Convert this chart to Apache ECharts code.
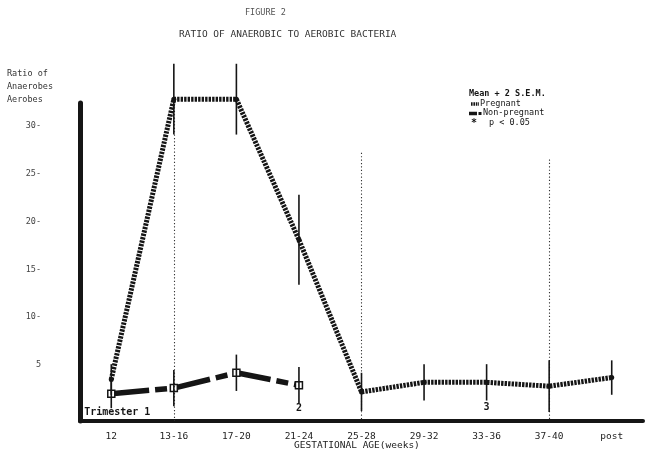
<!DOCTYPE html>
<html>
<head>
<meta charset="utf-8">
<script src="https://cdn.jsdelivr.net/npm/echarts@6/dist/echarts.min.js"></script>
<style>
html,body{margin:0;padding:0;background:#fff;}
#chart{width:647px;height:455px;}
</style>
</head>
<body>
<div id="chart"></div>
<script>
const categories = ['12','13-16','17-20','21-24','25-28','29-32','33-36','37-40','post'];
const pregnantMean = [3.5, 32.8, 32.8, 18.1, 2.2, 3.2, 3.2, 2.8, 3.7];
const pregnantErr  = [1.6, 3.7, 3.7, 4.7, 2.0, 1.9, 1.9, 2.7, 1.8];
const nonPregMean  = [2.0, 2.6, 4.2, 2.9, null, null, null, null, null];
const nonPregErr   = [1.5, 1.9, 1.9, 1.9, null, null, null, null, null];
const yTicks = [5, 10, 15, 20, 25, 30];
const yTickLabels = ['5', '10-', '15-', '20-', '25-', '30-'];
const boundaryCats = ['13-16', '25-28', '37-40'];
const boundaryTops = [32.3, 27.2, 26.5];
const trimesterLabels = [['Trimester 1', '12', 0.1], ['2', '21-24', 0.5], ['3', '33-36', 0.6]];
const yMin = -0.84, yMax = 32.4;

const mono = '"DejaVu Sans Mono", monospace';
const ink = '#151515';

function errData(mean, err) {
  const out = [];
  mean.forEach((m, i) => { if (m != null) out.push([i, m - err[i], m + err[i]]); });
  return out;
}
function errRender(width) {
  return function (params, api) {
    const lo = api.coord([api.value(0), api.value(1)]);
    const hi = api.coord([api.value(0), api.value(2)]);
    return { type: 'line', shape: { x1: lo[0], y1: lo[1], x2: hi[0], y2: hi[1] },
      style: { stroke: ink, lineWidth: width } };
  };
}

const chart = echarts.init(document.getElementById('chart'), null, { renderer: 'canvas' });
chart.setOption({
  animation: false,
  backgroundColor: '#fff',
  grid: { left: 80, right: 4, top: 103, bottom: 34 },
  xAxis: {
    type: 'category', data: categories, boundaryGap: true,
    axisLine: { onZero: false, lineStyle: { color: ink, width: 4 } },
    axisTick: { show: false },
    axisLabel: { fontFamily: mono, fontSize: 9.5, color: '#222', margin: 11 }
  },
  yAxis: {
    type: 'value', min: yMin, max: yMax,
    splitLine: { show: false },
    axisLine: { show: true, onZero: false, lineStyle: { color: ink, width: 5 } },
    axisTick: { show: false },
    axisLabel: {
      customValues: yTicks, margin: 39, fontFamily: mono, fontSize: 8.5, color: '#444',
      formatter: v => yTickLabels[yTicks.indexOf(v)] || ''
    }
  },
  graphic: [
    { type: 'text', left: 245, top: 8, style: { text: 'FIGURE 2', font: '8.5px ' + mono, fill: '#555' } },
    { type: 'text', left: 179, top: 30, style: { text: 'RATIO OF ANAEROBIC TO AEROBIC BACTERIA', font: '9.5px ' + mono, fill: '#333' } },
    { type: 'text', left: 7, top: 67, style: { text: 'Ratio of\nAnaerobes\nAerobes', font: '8.5px ' + mono, fill: '#333', lineHeight: 13 } },
    { type: 'text', left: 469, top: 89, style: { text: 'Mean + 2 S.E.M.', font: 'bold 8.5px ' + mono, fill: ink } },
    { type: 'line', shape: { x1: 471, y1: 104, x2: 479, y2: 104 }, style: { stroke: ink, lineWidth: 3.5, lineDash: [1.6, 0.8] } },
    { type: 'text', left: 480, top: 99, style: { text: 'Pregnant', font: '8.5px ' + mono, fill: ink } },
    { type: 'line', shape: { x1: 469, y1: 113.5, x2: 477, y2: 113.5 }, style: { stroke: ink, lineWidth: 3.5 } },
    { type: 'rect', shape: { x: 478.5, y: 112, width: 3, height: 3 }, style: { fill: ink } },
    { type: 'text', left: 483, top: 108.5, style: { text: 'Non-pregnant', font: '8.5px ' + mono, fill: ink } },
    { type: 'text', left: 471, top: 118, style: { text: '*', font: 'bold 10px ' + mono, fill: ink } },
    { type: 'text', left: 489, top: 118, style: { text: 'p < 0.05', font: '8.5px ' + mono, fill: ink } },
    { type: 'text', left: 294, top: 441, style: { text: 'GESTATIONAL AGE(weeks)', font: '9.5px ' + mono, fill: '#222' } }
  ],
  series: [
    {
      name: 'Pregnant', type: 'line', data: pregnantMean, clip: false, z: 3,
      symbol: 'circle', symbolSize: 5,
      itemStyle: { color: ink },
      lineStyle: { color: ink, width: 5, type: [2.4, 1.1] },
      markLine: {
        silent: true, symbol: ['none', 'none'],
        lineStyle: { color: '#333', width: 1.1, type: [1.2, 2.2] },
        label: { show: false },
        data: boundaryCats.map((c, i) => [{ coord: [c, boundaryTops[i]] }, { coord: [c, yMin] }])
      },
      markPoint: {
        symbol: 'rect', symbolSize: 1, silent: true,
        itemStyle: { color: 'rgba(0,0,0,0)' },
        label: { show: true, fontFamily: mono, fontWeight: 'bold', fontSize: 10, color: ink, position: 'inside' },
        data: trimesterLabels.map((t, i) => ({
          coord: [t[1], t[2]], value: t[0],
          label: { formatter: t[0], offset: i === 0 ? [6, 0] : [0, 0] }
        }))
      }
    },
    {
      name: 'Non-pregnant', type: 'line', data: nonPregMean, clip: false, z: 4,
      symbol: 'rect', symbolSize: 7,
      itemStyle: { color: '#fff', borderColor: ink, borderWidth: 1.5 },
      lineStyle: { color: ink, width: 5.5, type: [38, 6, 12, 6] }
    },
    { type: 'custom', data: errData(pregnantMean, pregnantErr), renderItem: errRender(1.6), z: 5, clip: false },
    { type: 'custom', data: errData(nonPregMean, nonPregErr), renderItem: errRender(1.6), z: 5, clip: false }
  ]
});
</script>
</body>
</html>
